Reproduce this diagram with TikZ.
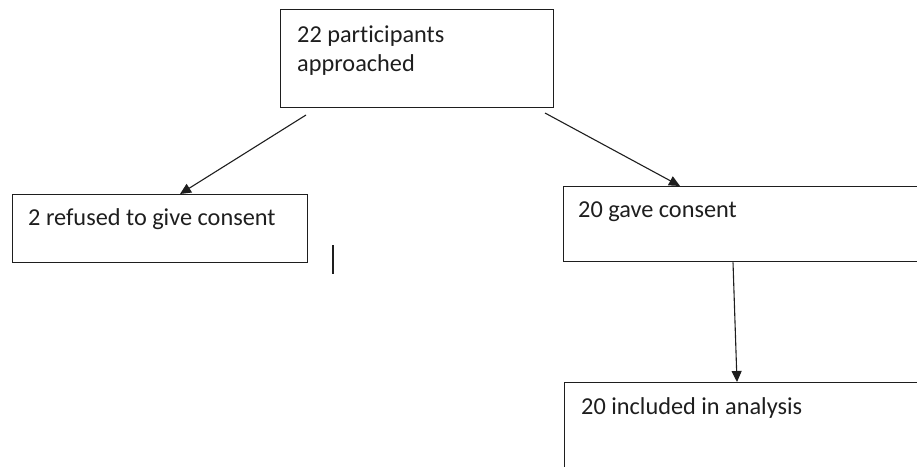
\documentclass[tikz,border=0pt]{standalone}
\usepackage{fontspec}
\setmainfont{Carlito}[Ligatures={NoCommon}]
\usetikzlibrary{arrows.meta,calc}
\definecolor{ink}{HTML}{1E1E1E}
\tikzset{
  box/.style={draw=ink, line width=1.3pt, rectangle, inner sep=0pt, anchor=north west},
  lbl/.style={anchor=base west, inner sep=0pt, text=ink, font=\fontsize{24.3}{29}\selectfont},
  arr/.style={draw=ink, line width=1.1pt, -{Triangle[length=11pt,width=10pt]}, shorten >=0pt}
}
\begin{document}
\begin{tikzpicture}[x=1pt,y=-1pt]
\useasboundingbox (0,0) rectangle (917,466);
\clip (0,0) rectangle (917,466);
\node[box, minimum width=273pt, minimum height=98pt] (top) at (280,9) {};
\node[box, minimum width=295pt, minimum height=68pt] (left) at (12,194) {};
\node[box, minimum width=360pt, minimum height=75pt] (right) at (563,186) {};
\node[box, minimum width=360pt, minimum height=120pt] (bottom) at (564,382) {};
\node[lbl] (ttop1) at (297,42) {22 participants};
\node[lbl] (ttop2) at (297,71) {approached};
\node[lbl] (tleft) at (28,225) {2 refused to give consent};
\node[lbl] (tright) at (578,217) {20 gave consent};
\node[lbl] (tbottom) at (581,414) {20 included in analysis};
\coordinate (s1) at (306,115);
\coordinate (e1) at ($(left.north west)+(168,0)$);
\coordinate (s2) at (545,113);
\coordinate (e2) at ($(right.north west)+(117,0)$);
\coordinate (s3) at ($(right.south west)+(170,0)$);
\coordinate (e3) at ($(bottom.north west)+(173,0)$);
\draw[arr] (s1) -- (e1);
\draw[arr] (s2) -- (e2);
\draw[arr] (s3) -- (e3);
\coordinate (b1) at (333,245);
\coordinate (b2) at (333,274);
\draw[ink, line width=2pt] (b1) -- (b2);
\end{tikzpicture}
\end{document}
